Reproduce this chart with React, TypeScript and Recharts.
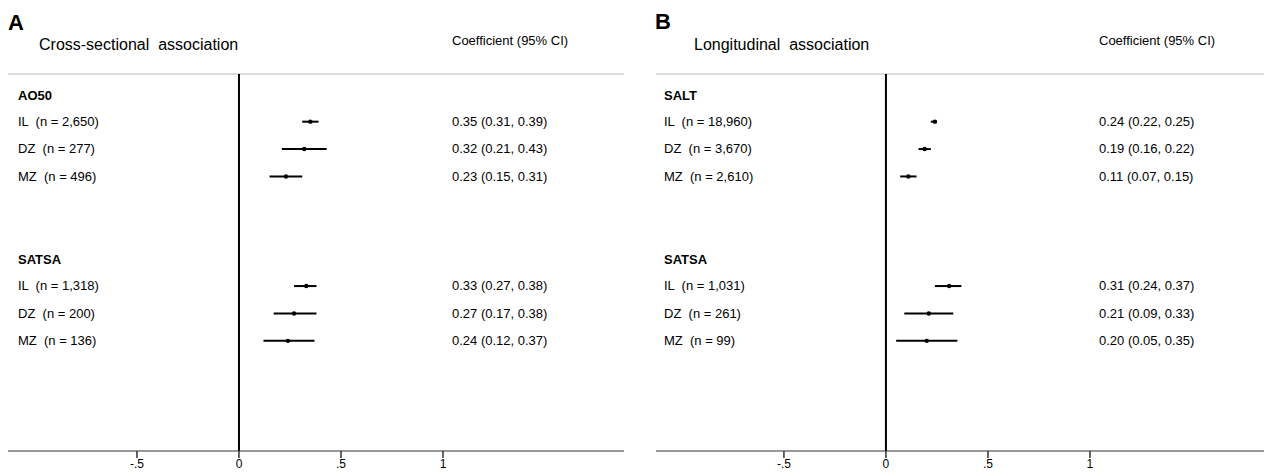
import React from 'react';
import { ScatterChart, Scatter, XAxis, YAxis, ErrorBar, ReferenceLine } from 'recharts';

// ---------- data ----------
const zygosity = ['IL', 'DZ', 'MZ'];

const crossGroups = ['AO50', 'SATSA'];
const crossN = [['2,650', '277', '496'], ['1,318', '200', '136']];
const crossEst = [[0.35, 0.32, 0.23], [0.33, 0.27, 0.24]];
const crossLo = [[0.31, 0.21, 0.15], [0.27, 0.17, 0.12]];
const crossHi = [[0.39, 0.43, 0.31], [0.38, 0.38, 0.37]];

const longGroups = ['SALT', 'SATSA'];
const longN = [['18,960', '3,670', '2,610'], ['1,031', '261', '99']];
const longEst = [[0.24, 0.19, 0.11], [0.31, 0.21, 0.20]];
const longLo = [[0.22, 0.16, 0.07], [0.24, 0.09, 0.05]];
const longHi = [[0.25, 0.22, 0.15], [0.37, 0.33, 0.35]];

const xTicks = [-0.5, 0, 0.5, 1];
const xTickLabels = ['-.5', '0', '.5', '1'];

const FONT = '"Liberation Sans", Arial, Helvetica, sans-serif';
const ROW_DOMAIN: [number, number] = [-0.74, 13.02];

type RowInfo = { row: number; text: string; bold: boolean; coef: string };

function buildPanel(groups: string[], n: string[][], est: number[][], lo: number[][], hi: number[][]) {
  const points: any[] = [];
  const rows: RowInfo[] = [];
  groups.forEach((g, gi) => {
    const headerRow = gi * 6;
    rows.push({ row: headerRow, text: g, bold: true, coef: '' });
    zygosity.forEach((z, zi) => {
      const r = headerRow + 1 + zi;
      const e = est[gi][zi];
      const l = lo[gi][zi];
      const h = hi[gi][zi];
      points.push({ row: r, est: e, err: [e - l, h - e] });
      rows.push({
        row: r,
        text: `${z}  (n = ${n[gi][zi]})`,
        bold: false,
        coef: `${e.toFixed(2)} (${l.toFixed(2)}, ${h.toFixed(2)})`,
      });
    });
  });
  return { points, rows };
}

const panelA = buildPanel(crossGroups, crossN, crossEst, crossLo, crossHi);
const panelB = buildPanel(longGroups, longN, longEst, longLo, longHi);

const Dot = (props: any) => <circle cx={props.cx} cy={props.cy} r={2.2} fill="#000" />;

function makeLabelShape(labelDx: number, coefDx: number) {
  return (props: any) => {
    const info = (props.payload ?? props) as RowInfo;
    const x = props.cx;
    const y = props.cy;
    if (x == null || y == null || !info) return <g />;
    return (
      <g>
        <text
          x={x + labelDx}
          y={y + (info.bold ? 5.5 : 4.2)}
          textAnchor="start"
          fontSize={13}
          fontWeight={info.bold ? 'bold' : 'normal'}
          fill="#000"
          fontFamily={FONT}
          style={{ whiteSpace: 'pre' }}
        >
          {info.text}
        </text>
        {info.coef ? (
          <text
            x={x + coefDx}
            y={y + 4.2}
            textAnchor="start"
            fontSize={13}
            fill="#000"
            fontFamily={FONT}
            style={{ whiteSpace: 'pre' }}
          >
            {info.coef}
          </text>
        ) : null}
      </g>
    );
  };
}

function Panel(props: {
  data: { points: any[]; rows: RowInfo[] };
  domain: [number, number];
  marginLeft: number;
  marginRight: number;
  labelDx: number;
  coefDx: number;
}) {
  const { data, domain, marginLeft, marginRight, labelDx, coefDx } = props;
  // text rows anchored at the left edge of the x scale
  const labelRows = data.rows.map((r) => ({ ...r, est: domain[0] }));
  return (
    <ScatterChart
      width={632}
      height={473}
      margin={{ top: 74, left: marginLeft, right: marginRight, bottom: 0 }}
    >
      <XAxis
        type="number"
        dataKey="est"
        domain={domain}
        allowDataOverflow
        ticks={xTicks}
        interval={0}
        tickFormatter={(v: number) => xTickLabels[xTicks.indexOf(v)] ?? String(v)}
        height={22}
        axisLine={{ stroke: '#333', strokeWidth: 1.2 }}
        tickLine={{ stroke: '#333', strokeWidth: 1.5 }}
        tickSize={7}
        tickMargin={1}
        tick={{ fontSize: 12, fill: '#000', fontFamily: FONT }}
      />
      <YAxis type="number" dataKey="row" domain={ROW_DOMAIN} allowDataOverflow reversed hide />
      <ReferenceLine y={ROW_DOMAIN[0]} stroke="#dcdcdc" strokeWidth={2} />
      <ReferenceLine x={0} stroke="#000" strokeWidth={2} />
      <Scatter
        data={labelRows}
        shape={makeLabelShape(labelDx, coefDx)}
        isAnimationActive={false}
      />
      <Scatter data={data.points} shape={<Dot />} isAnimationActive={false}>
        <ErrorBar
          dataKey="err"
          direction="x"
          width={0}
          stroke="#000"
          strokeWidth={2}
          isAnimationActive={false}
        />
      </Scatter>
    </ScatterChart>
  );
}

export default function App() {
  return (
    <div
      style={{
        position: 'absolute',
        left: 0,
        top: 0,
        width: 1264,
        height: 473,
        overflow: 'hidden',
        background: '#fff',
        fontFamily: FONT,
      }}
    >
      <div style={{ position: 'absolute', left: 0, top: 0 }}>
        <Panel
          data={panelA}
          domain={[-1.132, 1.887]}
          marginLeft={8}
          marginRight={8}
          labelDx={10}
          coefDx={444}
        />
      </div>
      <div style={{ position: 'absolute', left: 632, top: 0 }}>
        <Panel
          data={panelB}
          domain={[-1.127, 1.853]}
          marginLeft={24}
          marginRight={0}
          labelDx={8}
          coefDx={443}
        />
      </div>
      <svg
        width={1264}
        height={473}
        style={{ position: 'absolute', left: 0, top: 0, pointerEvents: 'none' }}
      >
        <text x={8} y={30} fontSize={22} fontWeight="bold" fontFamily={FONT} fill="#000">
          A
        </text>
        <text x={39} y={49.5} fontSize={16} fontFamily={FONT} fill="#000" style={{ whiteSpace: 'pre' }}>
          Cross-sectional  association
        </text>
        <text x={452} y={45} fontSize={13} fontFamily={FONT} fill="#000">
          Coefficient (95% CI)
        </text>
        <text x={655} y={28.5} fontSize={22} fontWeight="bold" fontFamily={FONT} fill="#000">
          B
        </text>
        <text x={694} y={49.5} fontSize={16} fontFamily={FONT} fill="#000" style={{ whiteSpace: 'pre' }}>
          Longitudinal  association
        </text>
        <text x={1099} y={45} fontSize={13} fontFamily={FONT} fill="#000">
          Coefficient (95% CI)
        </text>
      </svg>
    </div>
  );
}
